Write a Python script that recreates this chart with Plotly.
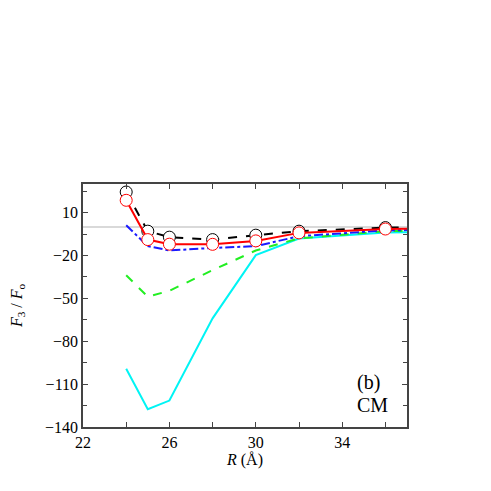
import plotly.graph_objects as go

R = [24, 25, 26, 28, 30, 32, 36, 40]
black_vals = [24.4, -3.0, -7.2, -8.9, -5.8, -3.0, -0.5, 0.5]
red_vals = [18.6, -8.9, -12.1, -12.2, -9.8, -4.2, -1.5, -0.5]
blue_vals = [1.1, -13.5, -16.5, -14.7, -13.5, -6.5, -2.5, -1.5]
green_vals = [-33.8, -48.9, -44.7, -30.3, -16.5, -8.0, -3.0, -2.0]
cyan_vals = [-99.3, -127.5, -121.5, -64.0, -19.8, -8.2, -4.0, -3.0]

FONT = "Liberation Serif"

fig = go.Figure()

# zero reference line
fig.add_hline(y=0, line=dict(color="#cccccc", width=1.5), layer="below")

fig.add_trace(go.Scatter(x=R, y=cyan_vals, mode="lines",
                         line=dict(color="#00f4f4", width=2)))
fig.add_trace(go.Scatter(x=R, y=green_vals, mode="lines",
                         line=dict(color="#22ee22", width=2, dash="dash")))
fig.add_trace(go.Scatter(x=R, y=blue_vals, mode="lines",
                         line=dict(color="#1a1aff", width=2, dash="dashdot")))
fig.add_trace(go.Scatter(x=R, y=black_vals, mode="lines+markers",
                         line=dict(color="black", width=2, dash="dash"),
                         marker=dict(symbol="circle", size=12, color="white",
                                     line=dict(color="black", width=1))))
fig.add_trace(go.Scatter(x=R, y=red_vals, mode="lines+markers",
                         line=dict(color="#ff0000", width=2),
                         marker=dict(symbol="circle", size=12, color="white",
                                     line=dict(color="#ff0000", width=1))))

fig.add_annotation(x=0.84, y=0.185, xref="paper", yref="paper", text="(b)",
                   showarrow=False, xanchor="left", yanchor="middle",
                   font=dict(family=FONT, size=20, color="black"))
fig.add_annotation(x=0.84, y=0.09, xref="paper", yref="paper", text="CM",
                   showarrow=False, xanchor="left", yanchor="middle",
                   font=dict(family=FONT, size=20, color="black"))

fig.update_layout(
    width=491, height=491,
    margin=dict(l=75, r=92, t=176, b=72),
    paper_bgcolor="white", plot_bgcolor="white",
    showlegend=False,
    font=dict(family=FONT, size=16, color="black"),
)

fig.update_xaxes(
    range=[22, 37], tickmode="linear", tick0=22, dtick=4,
    ticks="inside", ticklen=5, tickcolor="#444", tickwidth=1,
    minor=dict(tickmode="linear", tick0=22, dtick=2, ticks="inside", ticklen=5, tickcolor="#444"),
    showline=True, linecolor="#444", linewidth=1.5, mirror="ticks",
    showgrid=False, zeroline=False, automargin=False,
    tickfont=dict(family=FONT, size=16),
    title=dict(text="<i>R</i> (Å)", font=dict(family=FONT, size=16), standoff=2),
)
fig.update_yaxes(
    range=[-140, 30], tickmode="array", tickvals=[10, -20, -50, -80, -110, -140],
    ticktext=["10", "−20", "−50", "−80", "−110", "−140"],
    ticks="inside", ticklen=5, tickcolor="#444", tickwidth=1,
    minor=dict(tickmode="linear", tick0=-140, dtick=15, ticks="inside", ticklen=4, tickcolor="#444"),
    showline=True, linecolor="#444", linewidth=1.5, mirror="ticks",
    showgrid=False, zeroline=False, automargin=False,
    tickfont=dict(family=FONT, size=16),
    title=dict(text="<i>F</i><sub>3</sub> / <i>F</i><sub>o</sub>", font=dict(family=FONT, size=16), standoff=22),
)

fig.write_html("out.html")
